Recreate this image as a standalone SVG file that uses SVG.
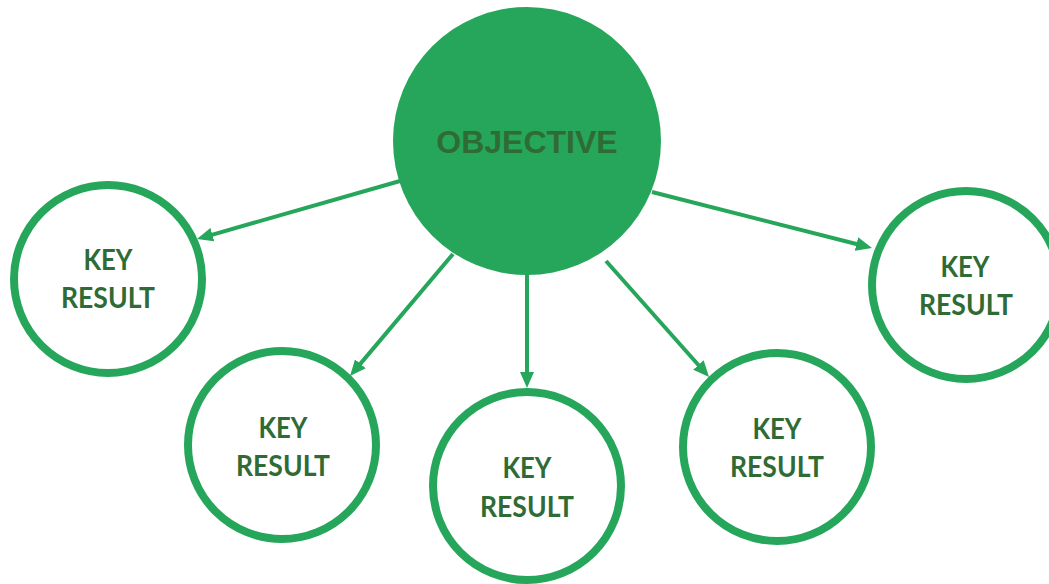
<svg xmlns="http://www.w3.org/2000/svg" width="1049" height="584" viewBox="0 0 1049 584">
<style>
.kr circle{fill:#fff;stroke:#26a65b;stroke-width:8}
.kr text{font-family:Lato,"Open Sans",sans-serif;font-weight:700;font-size:28px;fill:#2f6b35;text-anchor:middle}
.obj text{font-family:"Liberation Sans",Arial,sans-serif;font-weight:700;font-size:32px;fill:#2f6b35;text-anchor:middle}
.conn line{stroke:#26a65b;stroke-width:4;marker-end:url(#ah)}
</style>
<defs>
<marker id="ah" markerUnits="userSpaceOnUse" markerWidth="16" markerHeight="14" refX="6" refY="7" orient="auto" viewBox="0 0 16 14">
<path d="M0,0 L16,7 L0,14 z" fill="#26a65b"/>
</marker>
</defs>
<rect width="1049" height="584" fill="#fff"/>
<g class="conn" id="connectors">
<line x1="400" y1="181" x2="206.6" y2="236.3"/>
<line x1="453" y1="254" x2="356.5" y2="368.4"/>
<line x1="527" y1="275" x2="527" y2="378"/>
<line x1="606" y1="261" x2="702.4" y2="369.5"/>
<line x1="652" y1="192" x2="862.3" y2="245.5"/>
</g>
<g class="obj" id="objective">
<circle cx="527" cy="141" r="134" fill="#26a65b"/>
<text x="527" y="153">OBJECTIVE</text>
</g>
<g class="kr" id="kr1">
<circle cx="108" cy="279" r="94"/>
<text x="108" y="270" textLength="49" lengthAdjust="spacingAndGlyphs">KEY</text>
<text x="108" y="308" textLength="94" lengthAdjust="spacingAndGlyphs">RESULT</text>
</g>
<g class="kr" id="kr2">
<circle cx="282" cy="445" r="94"/>
<text x="283" y="438" textLength="49" lengthAdjust="spacingAndGlyphs">KEY</text>
<text x="283" y="476" textLength="94" lengthAdjust="spacingAndGlyphs">RESULT</text>
</g>
<g class="kr" id="kr3">
<circle cx="527" cy="486" r="94"/>
<text x="527" y="478" textLength="49" lengthAdjust="spacingAndGlyphs">KEY</text>
<text x="527" y="517" textLength="94" lengthAdjust="spacingAndGlyphs">RESULT</text>
</g>
<g class="kr" id="kr4">
<circle cx="777" cy="447" r="94"/>
<text x="777" y="439" textLength="49" lengthAdjust="spacingAndGlyphs">KEY</text>
<text x="777" y="477" textLength="94" lengthAdjust="spacingAndGlyphs">RESULT</text>
</g>
<g class="kr" id="kr5">
<circle cx="966" cy="285" r="94"/>
<text x="965" y="277" textLength="49" lengthAdjust="spacingAndGlyphs">KEY</text>
<text x="966" y="315" textLength="94" lengthAdjust="spacingAndGlyphs">RESULT</text>
</g>
</svg>
